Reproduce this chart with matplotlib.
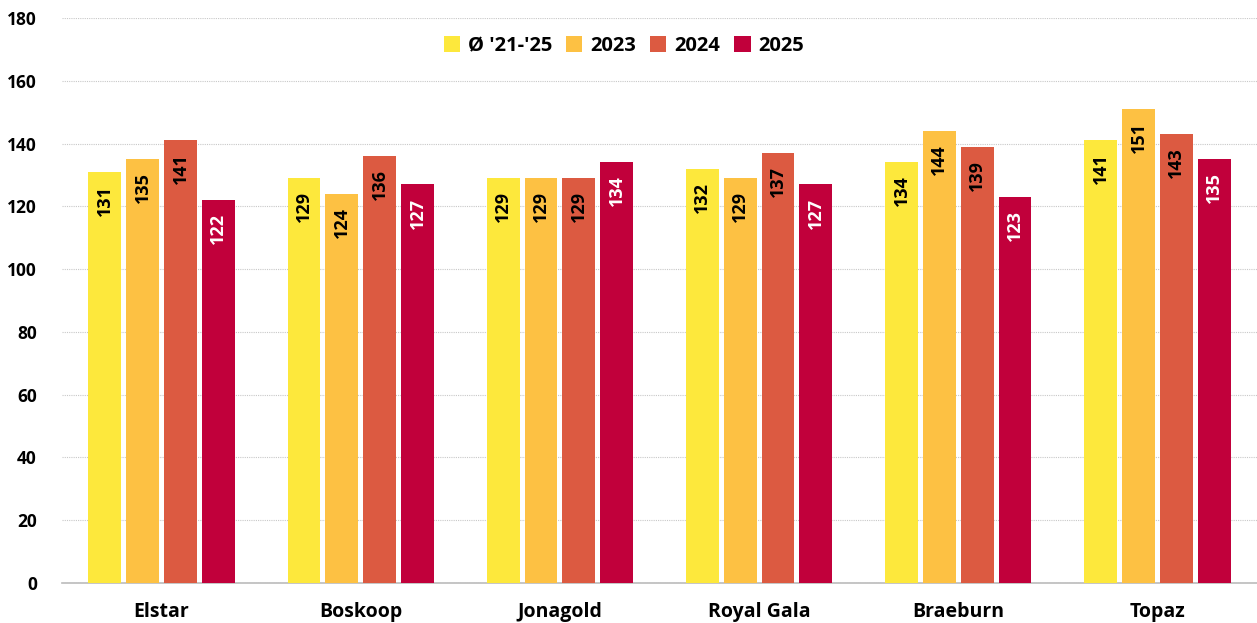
import matplotlib
matplotlib.use("Agg")
import matplotlib.pyplot as plt
import numpy as np

categories = ["Elstar", "Boskoop", "Jonagold", "Royal Gala", "Braeburn", "Topaz"]
series_names = ["Ø '21-'25", "2023", "2024", "2025"]
avg_21_25 = [131, 129, 129, 132, 134, 141]
y2023 = [135, 124, 129, 129, 144, 151]
y2024 = [141, 136, 129, 137, 139, 143]
y2025 = [122, 127, 134, 127, 123, 135]
yticks = [0, 20, 40, 60, 80, 100, 120, 140, 160, 180]

colors = ["#FDE83C", "#FDC143", "#DC5A41", "#C1003B"]
label_colors = ["black", "black", "black", "white"]

plt.rcParams['font.family'] = ['Open Sans', 'DejaVu Sans']

fig = plt.figure(figsize=(12.57, 6.23), dpi=100)
ax = fig.add_axes([62/1257, (623-583)/623, 1 - 62/1257, 565/623])

x = np.arange(len(categories))
width = 0.165
step = 0.19
all_series = [avg_21_25, y2023, y2024, y2025]
for i, (vals, c, lc, name) in enumerate(zip(all_series, colors, label_colors, series_names)):
    pos = x + (i - 1.5) * step
    bars = ax.bar(pos, vals, width=width, color=c, label=name, zorder=3)
    for b, v in zip(bars, vals):
        ax.text(b.get_x() + b.get_width() / 2, v - 4.2, f"{v}", rotation=90,
                ha="center", va="top", color=lc, fontsize=13, fontweight="bold", zorder=4)

ax.set_ylim(0, 180)
ax.set_xlim(-0.5, 5.5)
ax.set_yticks(yticks)
ax.set_yticklabels([str(t) for t in yticks], fontsize=12.5, fontweight="bold")
ax.set_xticks(x)
ax.set_xticklabels(categories, fontsize=14, fontweight="bold")
ax.tick_params(axis="both", length=0)
ax.tick_params(axis="x", pad=14)
ax.tick_params(axis="y", pad=18)
ax.grid(axis="y", color="#C8C8C8", linestyle=(0, (1, 1)), linewidth=0.8, zorder=0)
for s in ["top", "right", "left"]:
    ax.spines[s].set_visible(False)
ax.spines["bottom"].set_color("#BBBBBB")
ax.spines["bottom"].set_linewidth(1.2)

leg = ax.legend(loc="upper center", bbox_to_anchor=(0.5 - 62/1257/2 - 0.005, 1.0), ncol=4, frameon=False,
                handlelength=0.8, handleheight=0.8, handletextpad=0.4, columnspacing=0.7,
                prop={"weight": "bold", "size": 14.5})

fig.savefig("out.png", dpi=100)
